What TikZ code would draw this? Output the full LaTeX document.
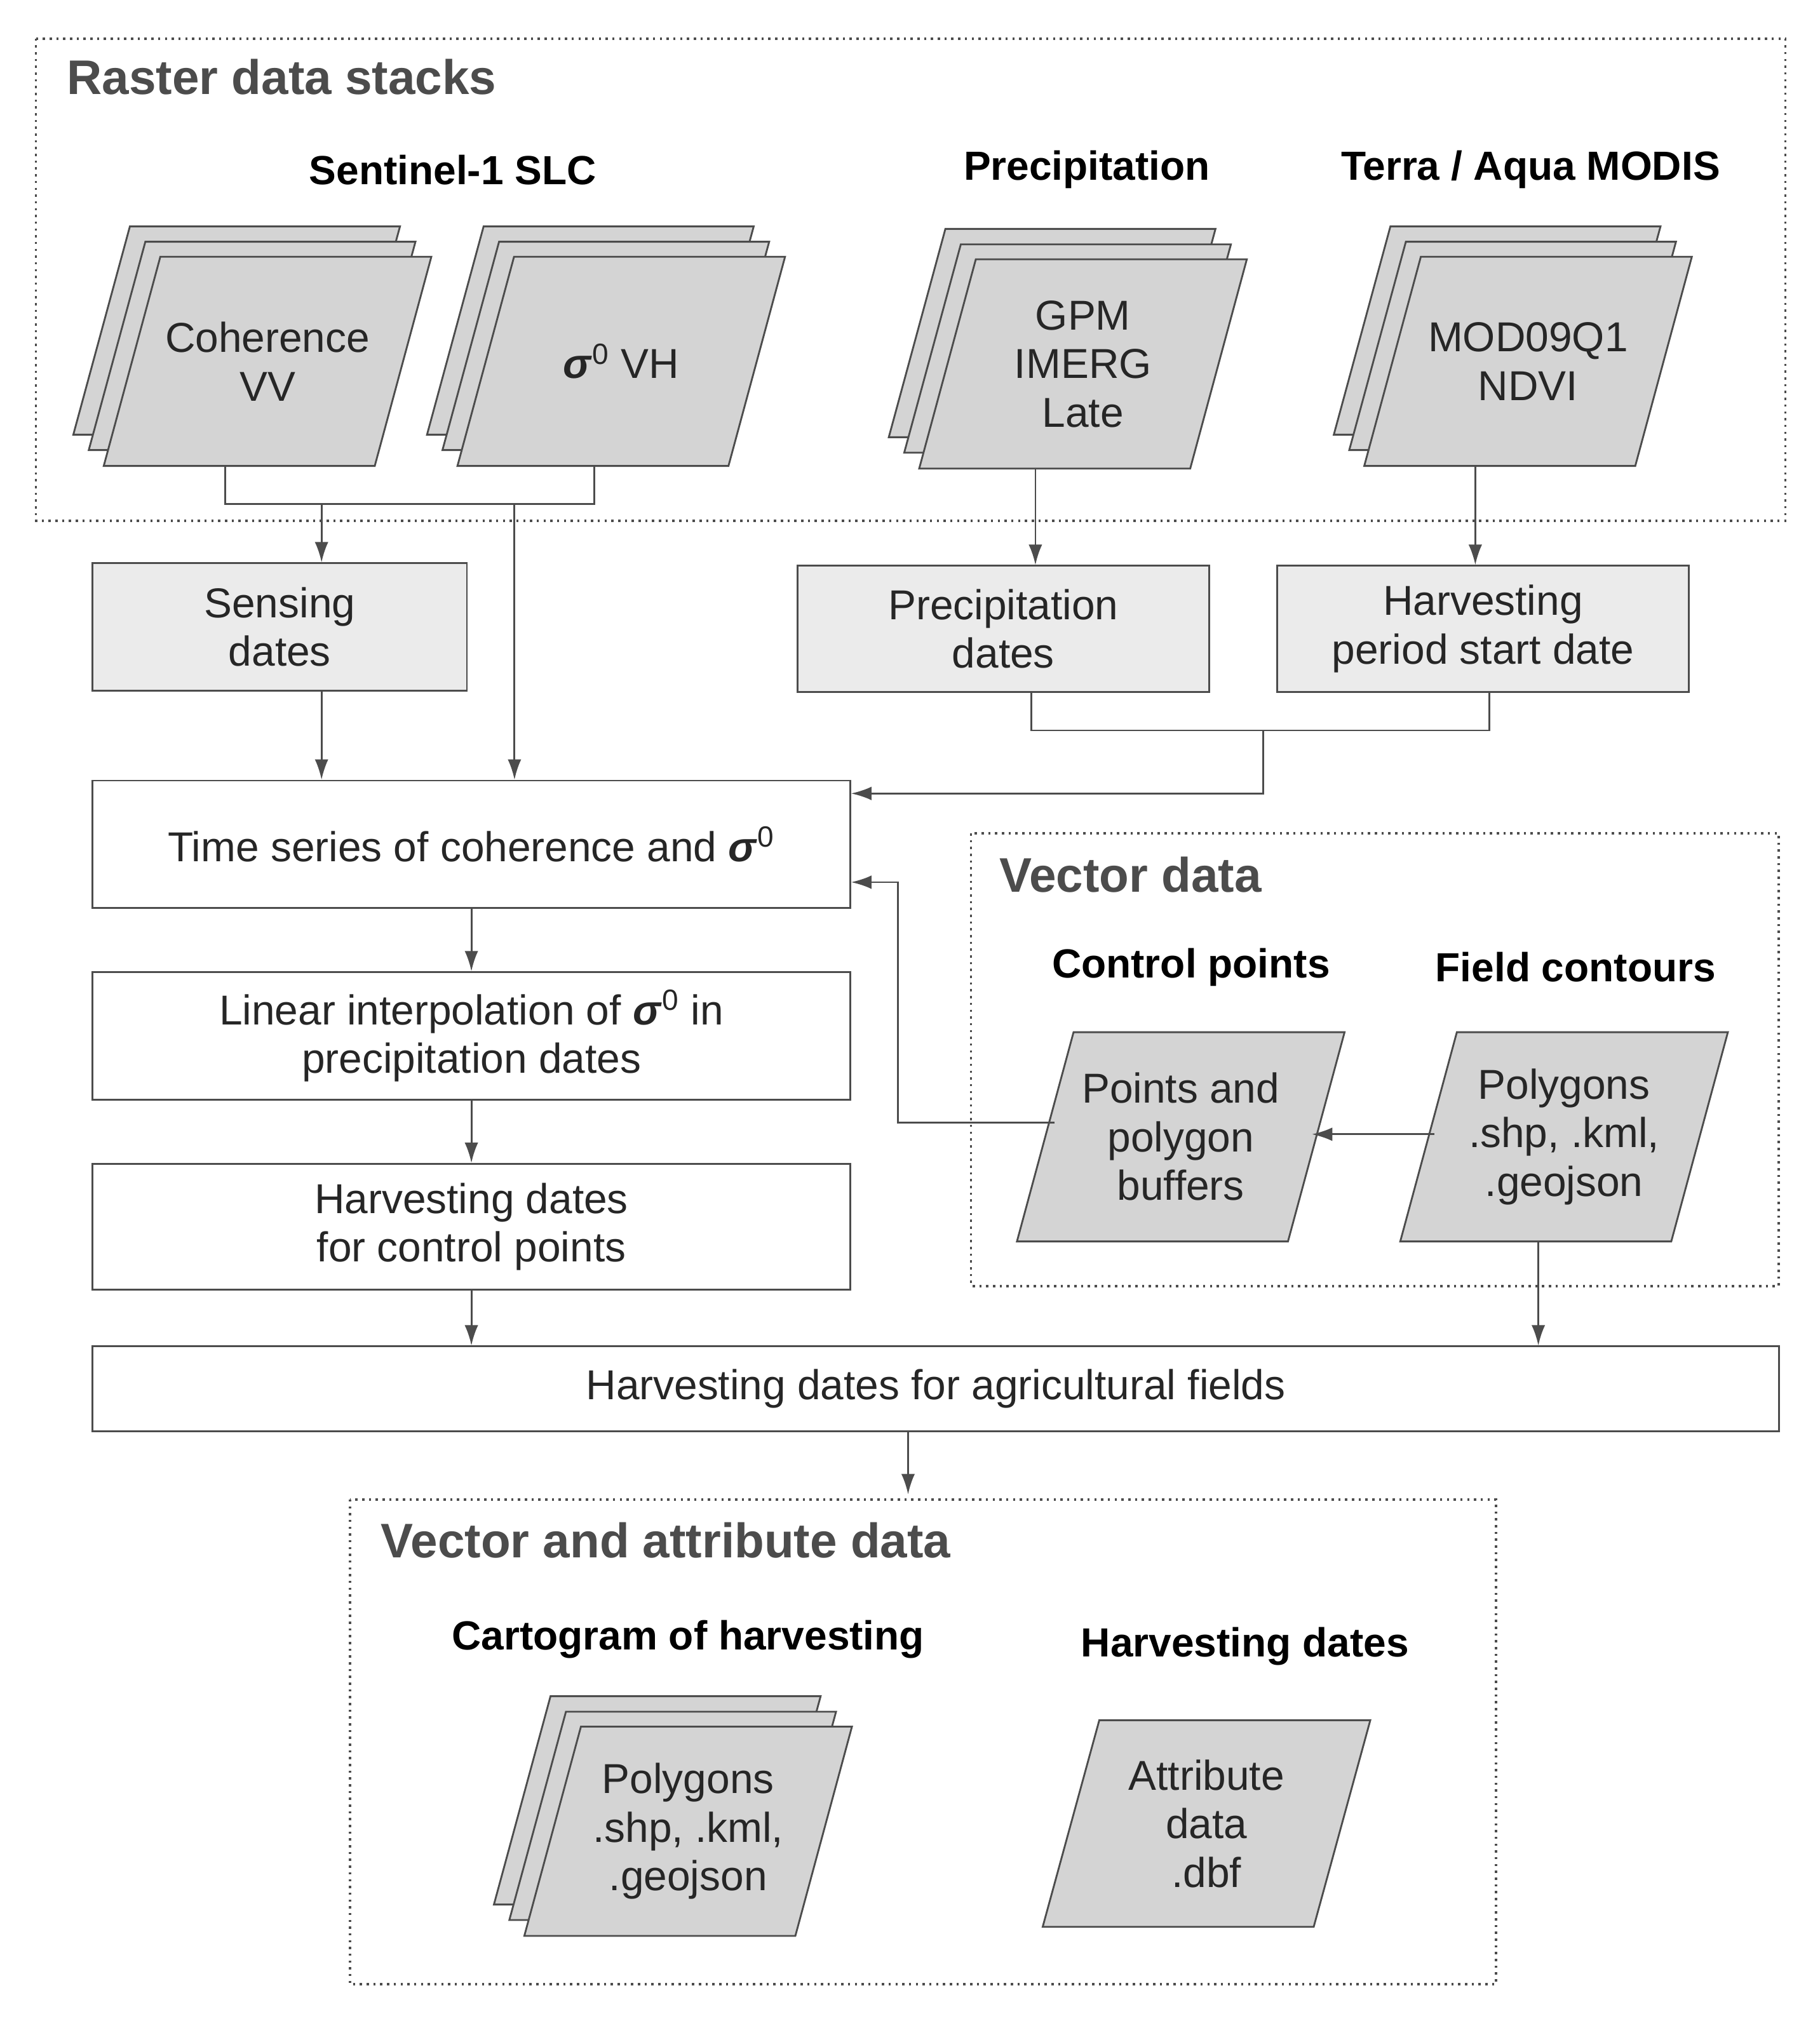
\documentclass[tikz,border=0pt]{standalone}
\usepackage{fontspec}
\setmainfont{Liberation Sans}
\usetikzlibrary{arrows.meta,backgrounds}
\def\U{0.02cm}
\newcommand\sig{\textbf{\textit{σ}}\textsuperscript{0}}
\tikzset{
 x=0.02cm,y=-0.02cm,
 txt/.style={font=\fontsize{18.5}{21.5}\selectfont,align=center,text=black!85},
 hdr/.style={font=\bfseries\fontsize{18}{21}\selectfont,text=black},
 ttl/.style={font=\bfseries\fontsize{21.5}{25}\selectfont,text=black!70,anchor=west},
 grp/.style={draw=black!70,dotted,line width=1pt},
 box/.style={draw=black!70,line width=0.8pt,txt,inner sep=0pt},
 pf/.style={draw=black!70,fill=black!17,line width=0.8pt},
 ar/.style={draw=black!70,line width=0.8pt,-{Latex[length=9pt,width=6pt]}},
 ln/.style={draw=black!70,line width=0.8pt},
}
\newcommand\para[6]{% name, cx, cy, w, h, text
 \node[txt,inner sep=0pt,minimum width=#4*\U,minimum height=#5*\U] (#1) at (#2,#3) {#6};
 \begin{scope}[on background layer]
 \draw[pf] ([xshift=22*\U]#1.north west) -- ([xshift=22*\U]#1.north east) -- ([xshift=-22*\U]#1.south east) -- ([xshift=-22*\U]#1.south west) -- cycle;
 \end{scope}}
\newcommand\stack[6]{%
 \begin{scope}[on background layer]
 \foreach \d in {24,12}{
 \draw[pf] ([xshift=(22-\d)*\U,yshift=\d*\U]#2-#4/2,#3-#5/2) -- ([xshift=(22-\d)*\U,yshift=\d*\U]#2+#4/2,#3-#5/2) -- ([xshift=(-22-\d)*\U,yshift=\d*\U]#2+#4/2,#3+#5/2) -- ([xshift=(-22-\d)*\U,yshift=\d*\U]#2-#4/2,#3+#5/2) -- cycle;}
 \end{scope}
 \para{#1}{#2}{#3}{#4}{#5}{#6}}
\begin{document}
\begin{tikzpicture}
\useasboundingbox (0,0) rectangle (1415,1577);
% Raster
\draw[grp] (28,30) rectangle (1388,405);
\node[ttl] at (46,60) {Raster data stacks};
\node[hdr] at (352,132) {Sentinel-1 SLC};
\node[hdr] at (845,132) {Precipitation};
\node[hdr] at (1190,132) {Terra / Aqua MODIS};
\stack{coh}{208}{281}{210}{162}{Coherence\\VV}
\stack{vh}{483}{281}{210}{162}{\sig\ VH}
\stack{gpm}{842}{283}{210}{162}{GPM\\IMERG\\Late}
\stack{mod}{1188}{281}{210}{162}{MOD09Q1\\NDVI}
\node[box,fill=black!8,minimum width=291*\U,minimum height=99*\U] (sens) at (217.5,487.5) {Sensing\\dates};
\node[box,fill=black!8,minimum width=320*\U,minimum height=98*\U] (pd) at (780,489) {Precipitation\\dates};
\node[box,fill=black!8,minimum width=320*\U,minimum height=98*\U] (hp) at (1153,489) {Harvesting\\period start date};
\node[box,minimum width=589*\U,minimum height=99*\U] (ts) at (366.5,656.5) {Time series of coherence and \sig};
\node[box,minimum width=589*\U,minimum height=99*\U] (li) at (366.5,805.5) {Linear interpolation of \sig\ in\\precipitation dates};
\node[box,minimum width=589*\U,minimum height=98*\U] (hc) at (366.5,954) {Harvesting dates\\for control points};
\node[box,minimum width=1311*\U,minimum height=66*\U] (ha) at (727.5,1080) {Harvesting dates for agricultural fields};
% raster connectors
\coordinate (j1) at (175,392); \coordinate (j2) at (462,392);
\draw[ln] (coh.south -| j1) -- (j1) -- (j2) -- (vh.south -| j2);
\draw[ar] (250,392) -- (sens.north -| 250,0);
\draw[ar] (400,392) -- (ts.north -| 400,0);
\draw[ar] (sens.south -| 250,0) -- (ts.north -| 250,0);
\draw[ar] (gpm.south -| 805,0) -- (pd.north -| 805,0);
\draw[ar] (mod.south -| 1147,0) -- (hp.north -| 1147,0);
\coordinate (j3) at (802,568); \coordinate (j4) at (1158,568); \coordinate (j5) at (982,617);
\draw[ln] (pd.south -| j3) -- (j3) -- (j4) -- (hp.south -| j4);
\draw[ar] (982,568) -- (j5) -- (ts.east |- j5);
\draw[ar] (ts.south) -- (li.north);
\draw[ar] (li.south) -- (hc.north);
\draw[ar] (hc.south) -- (ha.north -| hc.south);
% Vector data
\draw[grp] (755,648) rectangle (1383,1000);
\node[ttl] at (771,680) {Vector data};
\node[hdr] at (926,752) {Control points};
\node[hdr] at (1225,752) {Field contours};
\para{pts}{918}{884}{210}{162}{Points and\\polygon\\buffers}
\para{pol}{1216}{884}{210}{162}{Polygons\\.shp, .kml,\\.geojson}
\draw[ar] (1115,882) -- (1020,882);
\coordinate (j6) at (698,873); \coordinate (j7) at (698,686);
\draw[ar] (820,873) -- (j6) -- (j7) -- (ts.east |- j7);
\draw[ar] (pol.south -| 1196,0) -- (ha.north -| 1196,0);
% output
\draw[ar] (ha.south -| 706,0) -- (706,1162);
\draw[grp] (272,1166) rectangle (1163,1543);
\node[ttl] at (290,1198) {Vector and attribute data};
\node[hdr] at (535,1275) {Cartogram of harvesting};
\node[hdr] at (968,1280) {Harvesting dates};
\stack{cart}{535}{1424}{210}{162}{Polygons\\.shp, .kml,\\.geojson}
\para{attr}{938}{1418}{210}{160}{Attribute\\data\\.dbf}
\end{tikzpicture}
\end{document}
